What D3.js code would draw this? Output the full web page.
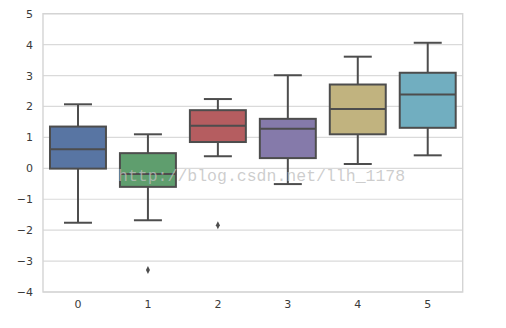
<!DOCTYPE html>
<html><head><meta charset="utf-8">
<script src="https://cdn.jsdelivr.net/npm/d3@7"></script>
<style>body{margin:0;background:#fff}svg{display:block}</style>
</head><body><svg id="c" width="506" height="328"></svg>
<script>
const categories = ["0","1","2","3","4","5"];
const whiskerLow = [-1.76,-1.68,0.39,-0.51,0.14,0.42];
const q1 = [-0.01,-0.60,0.85,0.33,1.10,1.31];
const median = [0.62,-0.18,1.38,1.28,1.92,2.39];
const q3 = [1.35,0.49,1.88,1.60,2.71,3.09];
const whiskerHigh = [2.07,1.10,2.24,3.01,3.61,4.06];
const outliers = [[],[-3.29],[-1.84],[],[],[]];
const colors = ["#5875a3","#5f9e6e","#b55d60","#857aaa","#c1b37f","#71aec0"];
const yTicks = [5,4,3,2,1,0,-1,-2,-3,-4];

const svg = d3.select("#c");
const L=43, R=462.7, T=13.7, B=292;
const x = d3.scaleBand().domain(categories).range([L,R]).paddingInner(0.2).paddingOuter(0.1);
const y = d3.scaleLinear().domain([-4,5]).range([B,T]);

// grid
svg.append("g").selectAll("line").data(yTicks).join("line")
  .attr("x1",L).attr("x2",R).attr("y1",d=>y(d)).attr("y2",d=>y(d))
  .attr("stroke","#dadada").attr("stroke-width",1.2);
// frame
svg.append("rect").attr("x",L).attr("y",T).attr("width",R-L).attr("height",B-T)
  .attr("fill","none").attr("stroke","#d4d4d4").attr("stroke-width",1.4);

// axes
const fmt = d=> d<0 ? "\u2212"+Math.abs(d) : String(d);
const ya = svg.append("g").attr("transform",`translate(${L},0)`)
  .call(d3.axisLeft(y).tickValues(yTicks).tickFormat(fmt).tickSize(0).tickPadding(10));
const xa = svg.append("g").attr("transform",`translate(0,${B})`)
  .call(d3.axisBottom(x).tickSize(0).tickPadding(8));
[ya,xa].forEach(a=>{a.select(".domain").remove();
  a.selectAll("text").attr("fill","#3a3a3a").style("font-family","'DejaVu Sans',sans-serif").style("font-size","11px");});

const lc="#4d4d4d", lw=2;
const g = svg.append("g");
categories.forEach((c,i)=>{
  const x0=x(c), w=x.bandwidth(), cx=x0+w/2, cw=w/4;
  // whiskers
  g.append("line").attr("x1",cx).attr("x2",cx).attr("y1",y(q3[i])).attr("y2",y(whiskerHigh[i])).attr("stroke",lc).attr("stroke-width",lw);
  g.append("line").attr("x1",cx).attr("x2",cx).attr("y1",y(q1[i])).attr("y2",y(whiskerLow[i])).attr("stroke",lc).attr("stroke-width",lw);
  g.append("line").attr("x1",cx-cw).attr("x2",cx+cw).attr("y1",y(whiskerHigh[i])).attr("y2",y(whiskerHigh[i])).attr("stroke",lc).attr("stroke-width",lw);
  g.append("line").attr("x1",cx-cw).attr("x2",cx+cw).attr("y1",y(whiskerLow[i])).attr("y2",y(whiskerLow[i])).attr("stroke",lc).attr("stroke-width",lw);
  // box
  g.append("rect").attr("x",x0).attr("width",w).attr("y",y(q3[i])).attr("height",y(q1[i])-y(q3[i]))
    .attr("fill",colors[i]).attr("stroke",lc).attr("stroke-width",lw);
  g.append("line").attr("x1",x0).attr("x2",x0+w).attr("y1",y(median[i])).attr("y2",y(median[i])).attr("stroke",lc).attr("stroke-width",lw);
  outliers[i].forEach(o=>{
    g.append("path").attr("d",`M${cx},${y(o)-4}L${cx+2},${y(o)}L${cx},${y(o)+4}L${cx-2},${y(o)}Z`).attr("fill",lc);
  });
});

// watermark
svg.append("text").attr("x",118).attr("y",181).text("http://blog.csdn.net/llh_1178")
  .attr("fill","#bdbdbd").attr("fill-opacity",0.75)
  .style("font-family","'Liberation Mono','DejaVu Sans Mono',monospace").style("font-size","16.5px");
</script></body></html>
